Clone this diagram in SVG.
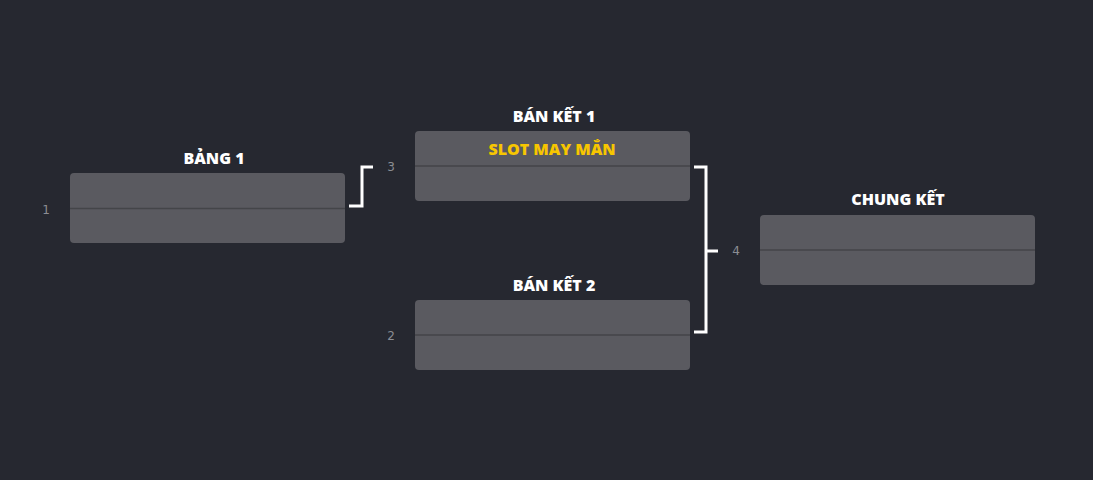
<svg xmlns="http://www.w3.org/2000/svg" width="1093" height="480" viewBox="0 0 1093 480">
<style>
.bg{fill:#262830}
.box{fill:#5a5a60}
.div{stroke:#444549;stroke-width:1.5}
.title{font-family:"Open Sans","Noto Sans",sans-serif;font-weight:800;font-size:16px;fill:#ffffff;text-anchor:middle}
.slot{font-family:"Open Sans","Noto Sans",sans-serif;font-weight:800;font-size:16px;fill:#f7c600;text-anchor:middle}
.num{font-family:"DejaVu Sans",sans-serif;font-size:12px;fill:#8b8d93;text-anchor:middle}
.con{fill:none;stroke:#ffffff;stroke-width:3}
</style>
<rect class="bg" x="0" y="0" width="1093" height="480"/>
<g id="connectors">
<path class="con" d="M349 206 H362 V167 H373"/>
<path class="con" d="M694 167 H706 V332 H694 M706 251 H718"/>
</g>
<g id="bang1">
<text class="title" x="214" y="164">BẢNG 1</text>
<rect class="box" x="70" y="173" width="275" height="70" rx="4"/>
<line class="div" x1="70" y1="208.5" x2="345" y2="208.5"/>
<text class="num" x="46" y="214">1</text>
</g>
<g id="banket1">
<text class="title" x="554" y="122">BÁN KẾT 1</text>
<rect class="box" x="415" y="131" width="275" height="70" rx="4"/>
<line class="div" x1="415" y1="166" x2="690" y2="166"/>
<text class="slot" x="552" y="155">SLOT MAY MẮN</text>
<text class="num" x="391" y="171">3</text>
</g>
<g id="banket2">
<text class="title" x="554" y="291">BÁN KẾT 2</text>
<rect class="box" x="415" y="300" width="275" height="70" rx="4"/>
<line class="div" x1="415" y1="335" x2="690" y2="335"/>
<text class="num" x="391" y="340">2</text>
</g>
<g id="chungket">
<text class="title" x="898" y="205">CHUNG KẾT</text>
<rect class="box" x="760" y="215" width="275" height="70" rx="4"/>
<line class="div" x1="760" y1="250" x2="1035" y2="250"/>
<text class="num" x="736" y="255">4</text>
</g>
</svg>
